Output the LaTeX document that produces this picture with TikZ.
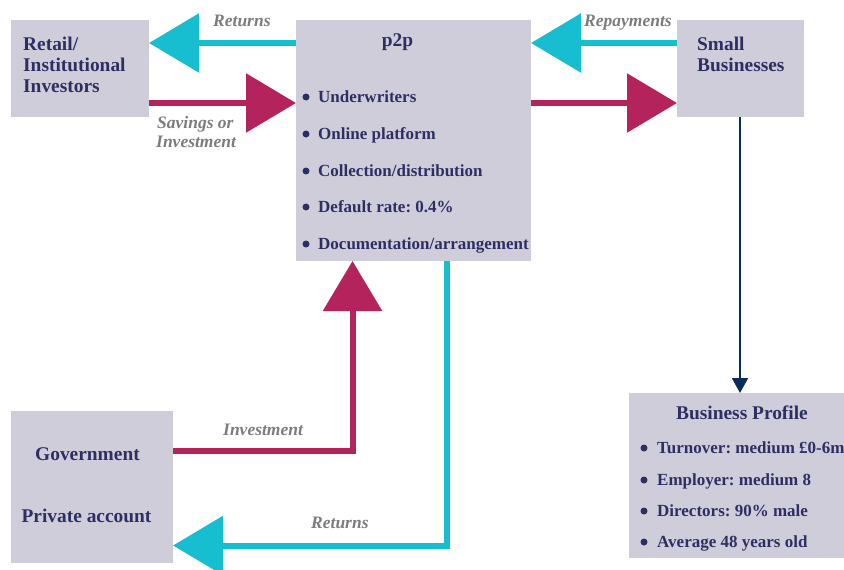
\documentclass[tikz,border=0pt]{standalone}
\usepackage{fontspec}
\setmainfont{Liberation Serif}
\usetikzlibrary{arrows.meta}
\definecolor{boxfill}{HTML}{D0CDDB}
\definecolor{navy}{HTML}{2D2F63}
\definecolor{cyanA}{HTML}{17BECF}
\definecolor{magA}{HTML}{B5235C}
\definecolor{lbl}{HTML}{7C7C7E}
\definecolor{dnavy}{HTML}{0C2D5C}
\frenchspacing
\begin{document}
\begin{tikzpicture}[x=1pt,y=-1pt,
  box/.style={fill=boxfill, draw=none, anchor=north west, inner sep=0pt, outer sep=0pt},
  ttl/.style={text=navy, font=\bfseries\fontsize{19.4}{21}\selectfont, inner sep=0pt},
  itm/.style={text=navy, font=\bfseries\fontsize{17}{19}\selectfont, inner sep=0pt, anchor=base west},
  lab/.style={text=lbl, font=\bfseries\itshape\fontsize{17.5}{20}\selectfont, inner sep=0pt, anchor=base west},
  dot/.style={circle, fill=navy, inner sep=0pt, minimum size=7pt},
  cflow/.style={draw=cyanA, line width=6pt, -{Triangle[width=58pt,length=50pt]}},
  mflow/.style={draw=magA, line width=6pt, -{Triangle[width=58pt,length=50pt]}},
]
\useasboundingbox (0,0) rectangle (844,570);
% boxes
\node[box, minimum width=138pt, minimum height=97pt] (retail) at (11,20) {};
\node[box, minimum width=235pt, minimum height=241pt] (p2p) at (296,20) {};
\node[box, minimum width=127pt, minimum height=97pt] (small) at (677,20) {};
\node[box, minimum width=162pt, minimum height=152pt] (gov) at (11,411) {};
\node[box, minimum width=220pt, minimum height=165pt] (prof) at (629,393) {};

% retail text
\node[ttl, anchor=base west] (rt1) at (23,50) {Retail/};
\node[ttl, anchor=base west] (rt2) at (23,71) {Institutional};
\node[ttl, anchor=base west] (rt3) at (23,92) {Investors};

% p2p text
\node[ttl, anchor=base] (pt) at (397.5,46) {p2p};
\node[dot] (pd1) at (306,97) {};
\node[itm] (pi1) at (318,102) {Underwriters};
\node[dot] (pd2) at (306,134) {};
\node[itm] (pi2) at (318,139) {Online platform};
\node[dot] (pd3) at (306,171) {};
\node[itm] (pi3) at (318,176) {Collection/distribution};
\node[dot] (pd4) at (306,207) {};
\node[itm] (pi4) at (318,212) {Default rate: 0.4\%};
\node[dot] (pd5) at (306,244) {};
\node[itm] (pi5) at (318,249) {Documentation/arrangement};

% small businesses text
\node[ttl, anchor=base west] (st1) at (697,50) {Small};
\node[ttl, anchor=base west] (st2) at (697,71) {Businesses};

% government text
\node[ttl, anchor=base] (gt1) at (87.5,460) {Government};
\node[ttl, anchor=base] (gt2) at (86.5,522) {Private account};

% business profile text
\node[ttl, anchor=base] (bt) at (742,419) {Business Profile};
\node[dot] (bd1) at (644,448) {};
\node[itm] (bi1) at (657,453) {Turnover: medium £0-6m};
\node[dot] (bd2) at (644,480) {};
\node[itm] (bi2) at (657,485) {Employer: medium 8};
\node[dot] (bd3) at (644,511) {};
\node[itm] (bi3) at (657,516) {Directors: 90\% male};
\node[dot] (bd4) at (644,542) {};
\node[itm] (bi4) at (657,547) {Average 48 years old};

% flows
\draw[cflow] (p2p.west |- 0,43) -- (retail.east |- 0,43);
\draw[mflow] (retail.east |- 0,103) -- (p2p.west |- 0,103);
\draw[cflow] (small.west |- 0,43) -- (p2p.east |- 0,43);
\draw[mflow] (p2p.east |- 0,103) -- (small.west |- 0,103);
\draw[mflow] (gov.east |- 0,451) -| (p2p.south -| 352.5,0);
\draw[cflow] (p2p.south -| 447,0) |- (gov.east |- 0,545.5);
\draw[draw=dnavy, line width=2pt, -{Triangle[width=16pt,length=15pt]}] (small.south -| 740,0) -- (prof.north -| 740,0);

% labels
\node[lab] (l1) at (213,26) {Returns};
\node[lab] (l2) at (157,128) {Savings or};
\node[lab] (l3) at (156,147) {Investment};
\node[lab] (l4) at (584,27) {Repayments};
\node[lab] (l5) at (223,435) {Investment};
\node[lab] (l6) at (311,528) {Returns};
\end{tikzpicture}
\end{document}
